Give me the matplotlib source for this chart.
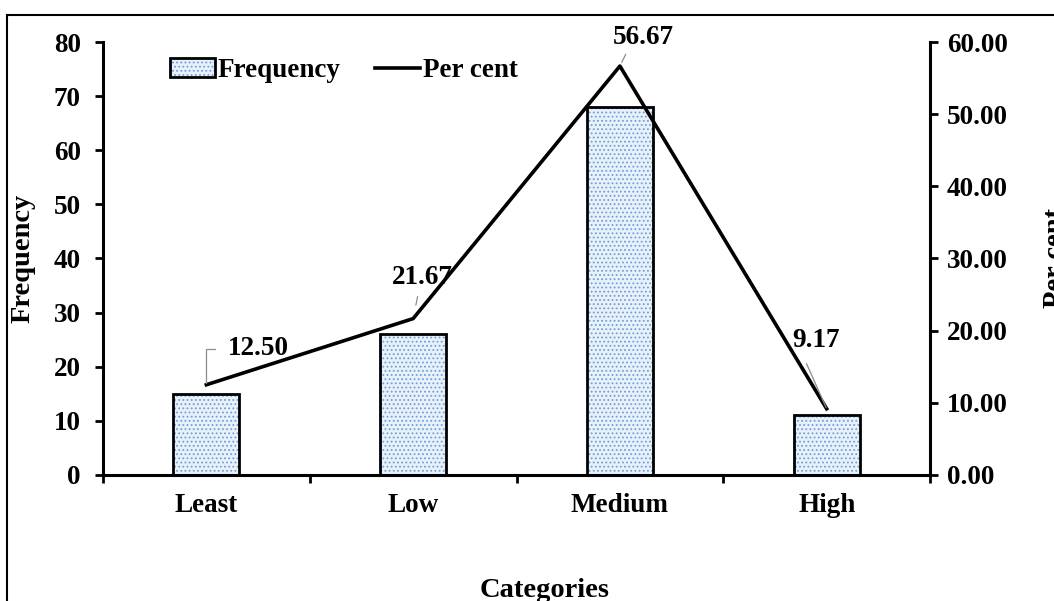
import matplotlib
matplotlib.use("Agg")
import matplotlib.pyplot as plt
import numpy as np
from matplotlib.patches import Rectangle
from matplotlib.legend_handler import HandlerTuple

categories = ["Least", "Low", "Medium", "High"]
frequency = [15, 26, 68, 11]
percent = [12.50, 21.67, 56.67, 9.17]
pct_labels = ["12.50", "21.67", "56.67", "9.17"]

FS = 19.5
plt.rcParams["font.family"] = "Liberation Serif"
plt.rcParams["font.weight"] = "bold"
plt.rcParams["axes.labelweight"] = "bold"
plt.rcParams["font.size"] = FS
plt.rcParams["hatch.linewidth"] = 0.8

fig = plt.figure(figsize=(10.54, 6.01), dpi=100)
ax = fig.add_axes([0.0977, 0.2097, 0.7847, 0.7204])
ax2 = ax.twinx()

x = np.arange(len(categories))
# dotted fill first, then the black outline on top
fill = ax.bar(x, frequency, width=0.32, color="#e8f0fa", edgecolor="#6f9fd8",
              hatch="....", linewidth=0, zorder=2)
outline = ax.bar(x, frequency, width=0.32, fill=False, edgecolor="black",
                 linewidth=2.0, zorder=3)

line, = ax2.plot(x, percent, color="black", lw=2.6, zorder=4)

ax.set_xlim(-0.5, 3.5)
ax.set_ylim(0, 80)
ax2.set_ylim(0, 60)
ax.set_yticks(np.arange(0, 81, 10))
ax2.set_yticks(np.arange(0, 61, 10))
ax2.set_yticklabels(["%.2f" % v for v in np.arange(0, 61, 10)])

ax.set_xticks(x)
ax.set_xticklabels(categories)
ax.set_xticks(np.arange(-0.5, 3.6, 1), minor=True)
ax.tick_params(axis="x", which="major", length=0, pad=13)
ax.tick_params(axis="x", which="minor", length=6, width=2, direction="out")
ax.tick_params(axis="y", length=6, width=2, direction="out", pad=10)
ax2.tick_params(axis="y", length=6, width=2, direction="out", pad=6)

for a in (ax, ax2):
    a.spines["top"].set_visible(False)
    for s in ("left", "right", "bottom"):
        a.spines[s].set_linewidth(2.2)
ax.spines["right"].set_visible(False)
ax2.spines["left"].set_visible(False)
ax2.spines["bottom"].set_visible(False)

ax.set_ylabel("Frequency", fontsize=20.5)
ax.yaxis.set_label_coords(-0.082, 0.5)
ax.set_xlabel("Categories", fontsize=20.5)
ax.xaxis.set_label_coords(0.534, -0.238)
ax2.set_ylabel("Per cent", fontsize=20.5)
ax2.yaxis.set_label_coords(1.137, 0.5)

# value labels with thin grey leader lines
label_pos = [(0.25, 17.5), (1.043, 27.4), (2.112, 60.6), (2.949, 18.6)]
leaders = [
    dict(connectionstyle="angle,angleA=0,angleB=90,rad=0", relpos=(0, 0.5),
         shrinkA=7, shrinkB=1),
    dict(relpos=(0.45, 0), shrinkA=3, shrinkB=10),
    dict(relpos=(0.25, 0), shrinkA=1, shrinkB=3),
    dict(relpos=(0.2, 0), shrinkA=6, shrinkB=1),
]
for i, (lx, ly) in enumerate(label_pos):
    arrow = dict(arrowstyle="-", color="#8c8c8c", lw=0.9, **leaders[i])
    ax2.annotate(pct_labels[i], xy=(x[i], percent[i]), xytext=(lx, ly),
                 ha="center", va="center", fontsize=FS, fontweight="bold",
                 arrowprops=arrow, annotation_clip=False, zorder=5)

ax.legend([(fill, outline), line], ["Frequency", "Per cent"],
          handler_map={tuple: HandlerTuple()},
          loc="upper left", bbox_to_anchor=(0.081, 0.963), ncol=2, frameon=False,
          borderaxespad=0, borderpad=0,
          handlelength=1.65, handleheight=0.65, handletextpad=0.1,
          columnspacing=1.3, fontsize=FS)

# outer frame around the chart
fig.patches.append(Rectangle((7 / 1054, -0.2), 1.2, 1.2 - 15 / 601,
                             transform=fig.transFigure, fill=False,
                             edgecolor="black", lw=1.5))

fig.savefig("out.png", dpi=100)
